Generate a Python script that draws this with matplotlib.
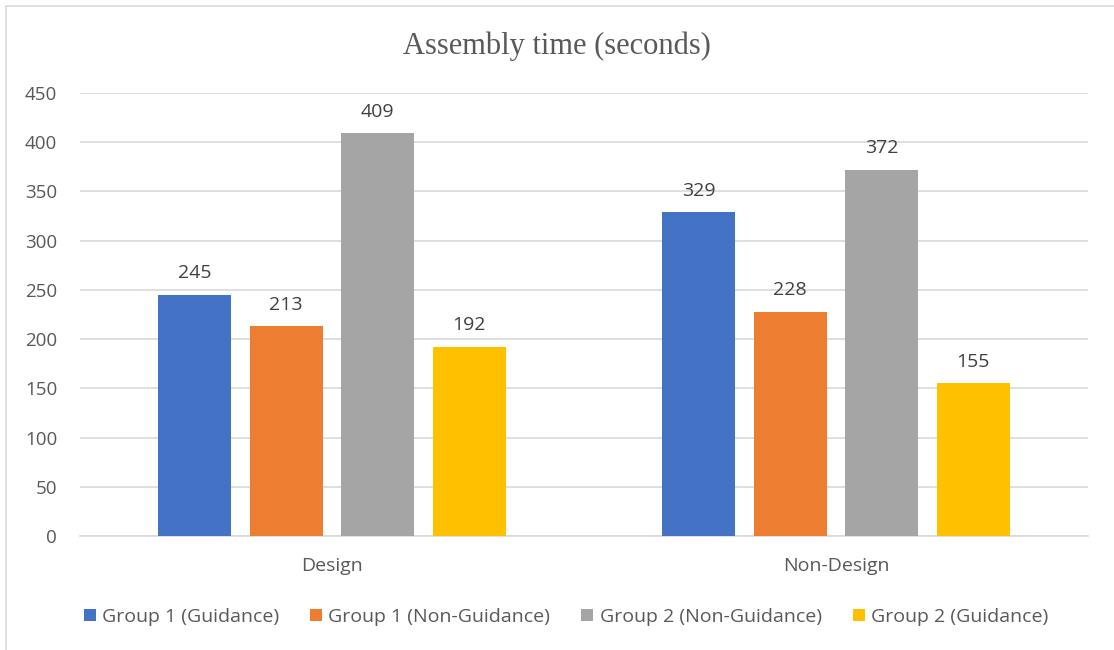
import matplotlib
matplotlib.use("Agg")
import matplotlib.pyplot as plt
import numpy as np
from matplotlib.patches import Rectangle

categories = ["Design", "Non-Design"]
series_names = ["Group 1 (Guidance)", "Group 1 (Non-Guidance)",
                "Group 2 (Non-Guidance)", "Group 2 (Guidance)"]
values = [
    [245, 329],
    [213, 228],
    [409, 372],
    [192, 155],
]
colors = ["#4472C4", "#ED7D31", "#A5A5A5", "#FFC000"]
yticks = [0, 50, 100, 150, 200, 250, 300, 350, 400, 450]

W, H = 1114, 650
fig = plt.figure(figsize=(W / 100, H / 100), dpi=100)
fig.patch.set_facecolor("white")

# chart border
fig.patches.append(Rectangle((6 / W, -0.05), 1.2, (H - 6) / H + 0.05,
                             transform=fig.transFigure, fill=False,
                             edgecolor="#d9d9d9", linewidth=1.2))

left, right = 80 / W, 1088 / W
bottom, top = 1 - 536 / H, 1 - 93 / H
ax = fig.add_axes([left, bottom, right - left, top - bottom])

font = "Open Sans"
txt_color = "#595959"
fs = 14

bar_w = 73 / 504
step = 91.5 / 504
x = np.arange(len(categories))
offsets = (np.arange(len(series_names)) - 1.5) * step
for i, (name, vals, c) in enumerate(zip(series_names, values, colors)):
    bars = ax.bar(x + offsets[i], vals, width=bar_w, color=c, label=name, zorder=3)
    for b, v in zip(bars, vals):
        ax.annotate(f"{v}", (b.get_x() + b.get_width() / 2, v),
                    xytext=(0, 9), textcoords="offset points",
                    ha="center", va="bottom", fontsize=fs,
                    family=font, color="#404040")

ax.set_xlim(-0.5, 1.5)
ax.set_ylim(0, 450)
ax.set_yticks(yticks)
ax.set_yticklabels([str(t) for t in yticks], family=font, fontsize=13.5, color=txt_color)
ax.set_xticks(x)
ax.set_xticklabels(categories, family=font, fontsize=fs, color=txt_color)
ax.tick_params(axis="both", length=0)
ax.tick_params(axis="y", pad=16.5)
ax.tick_params(axis="x", pad=15)
ax.grid(axis="y", color="#d9d9d9", linewidth=1.2, zorder=0)
for s in ["top", "right", "left"]:
    ax.spines[s].set_visible(False)
ax.spines["bottom"].set_color("#d9d9d9")
ax.spines["bottom"].set_linewidth(1.2)

fig.text(0.5, 1 - 46 / H, "Assembly time (seconds)", ha="center", va="center",
         family="Liberation Serif", fontsize=22, color="#595959")

leg = fig.legend(loc="center", bbox_to_anchor=(566 / W, 1 - 617 / H), ncol=4,
                 frameon=False, prop={"family": font, "size": fs},
                 handlelength=0.62, handleheight=0.62, handletextpad=0.31,
                 columnspacing=1.6)
for t in leg.get_texts():
    t.set_color(txt_color)

fig.savefig("out.png", dpi=100, facecolor="white")
